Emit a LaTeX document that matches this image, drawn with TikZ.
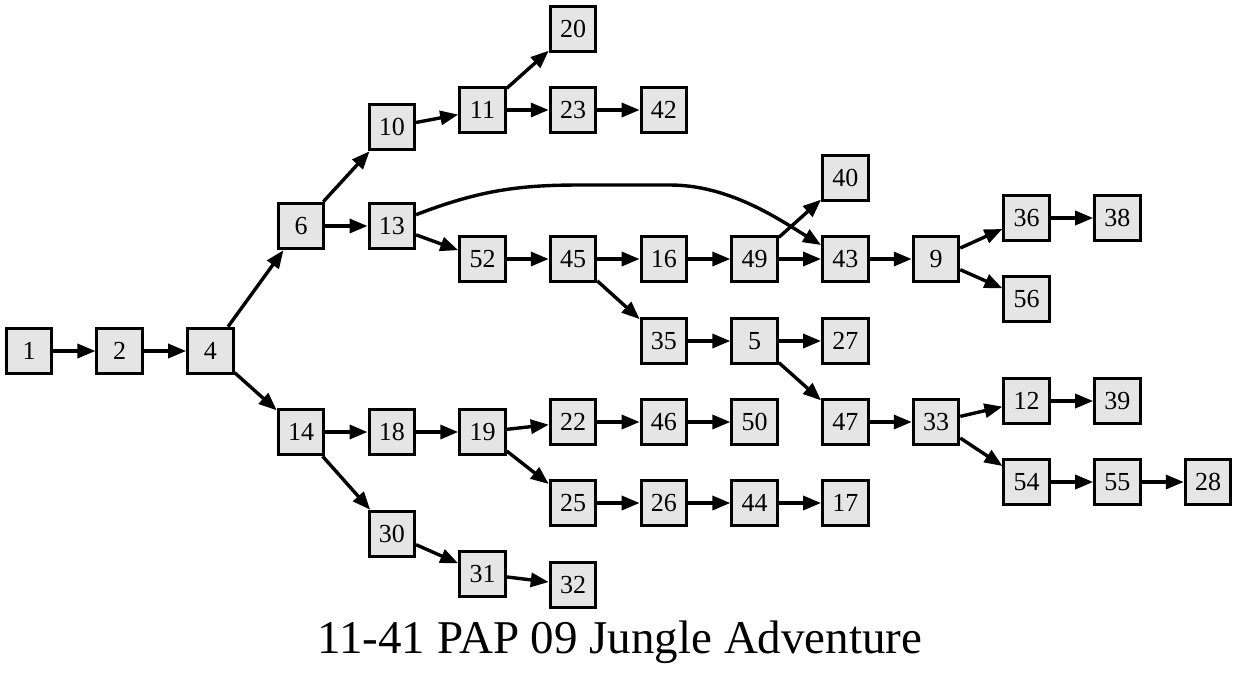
\documentclass[tikz,border=0pt]{standalone}
\usepackage{fontspec}
\setmainfont{Liberation Serif}
\usetikzlibrary{arrows.meta}
\definecolor{nodegray}{HTML}{E5E5E5}
\begin{document}
\begin{tikzpicture}[x=1pt,y=-1pt,
  box/.style={draw=black,fill=nodegray,line width=3pt,minimum size=45.5pt,inner sep=0pt,
    font=\fontsize{26}{26}\selectfont},
  edge/.style={line width=3.4pt,-{Triangle[length=18pt,width=14pt]}}]
\useasboundingbox (0,0) rectangle (1237,673);
\def\cA{29}\def\cB{119.7}\def\cC{210.4}\def\cD{301}\def\cE{391.8}\def\cF{482.5}\def\cG{573}
\def\cH{663.9}\def\cI{754.6}\def\cJ{845.3}\def\cK{936}\def\cL{1026.7}\def\cM{1117.4}\def\cN{1208}
\node[box] (n1) at (\cA,351) {1};
\node[box] (n2) at (\cB,351) {2};
\node[box] (n4) at (\cC,351) {4};
\node[box] (n6) at (\cD,226) {6};
\node[box] (n14) at (\cD,432) {14};
\node[box] (n10) at (\cE,127) {10};
\node[box] (n13) at (\cE,226) {13};
\node[box] (n18) at (\cE,432) {18};
\node[box] (n30) at (\cE,534) {30};
\node[box] (n11) at (\cF,110) {11};
\node[box] (n52) at (\cF,259) {52};
\node[box] (n19) at (\cF,432) {19};
\node[box] (n31) at (\cF,574) {31};
\node[box] (n20) at (\cG,29) {20};
\node[box] (n23) at (\cG,110) {23};
\node[box] (n45) at (\cG,259) {45};
\node[box] (n22) at (\cG,422) {22};
\node[box] (n25) at (\cG,503) {25};
\node[box] (n32) at (\cG,585) {32};
\node[box] (n42) at (\cH,110) {42};
\node[box] (n16) at (\cH,259) {16};
\node[box] (n35) at (\cH,341) {35};
\node[box] (n46) at (\cH,422) {46};
\node[box] (n26) at (\cH,503) {26};
\node[box] (n49) at (\cI,259) {49};
\node[box] (n5) at (\cI,341) {5};
\node[box] (n50) at (\cI,422) {50};
\node[box] (n44) at (\cI,503) {44};
\node[box] (n40) at (\cJ,178) {40};
\node[box] (n43) at (\cJ,259) {43};
\node[box] (n27) at (\cJ,341) {27};
\node[box] (n47) at (\cJ,422) {47};
\node[box] (n17) at (\cJ,503) {17};
\node[box] (n9) at (\cK,259) {9};
\node[box] (n33) at (\cK,422) {33};
\node[box] (n36) at (\cL,218) {36};
\node[box] (n56) at (\cL,299) {56};
\node[box] (n12) at (\cL,401) {12};
\node[box] (n54) at (\cL,482) {54};
\node[box] (n38) at (\cM,218) {38};
\node[box] (n39) at (\cM,401) {39};
\node[box] (n55) at (\cM,482) {55};
\node[box] (n28) at (\cN,482) {28};
\foreach \a/\b in {1/2,2/4,4/6,4/14,6/10,6/13,10/11,11/20,11/23,23/42,13/52,52/45,45/16,45/35,
  16/49,49/40,49/43,43/9,9/36,9/56,36/38,35/5,5/27,5/47,47/33,33/12,33/54,12/39,54/55,55/28,
  14/18,14/30,18/19,19/22,19/25,22/46,46/50,25/26,26/44,44/17,30/31,31/32}
  \draw[edge] (n\a) -- (n\b);
\draw[edge] (n13.25) .. controls (480,190) and (520,185) .. (580,185) -- (670,185)
  .. controls (730,185) and (780,220) .. (n43.150);
\node[anchor=base,font=\fontsize{47}{47}\selectfont,inner sep=0pt] (title) at (620,653) {11-41 PAP 09 Jungle Adventure};
\end{tikzpicture}
\end{document}
